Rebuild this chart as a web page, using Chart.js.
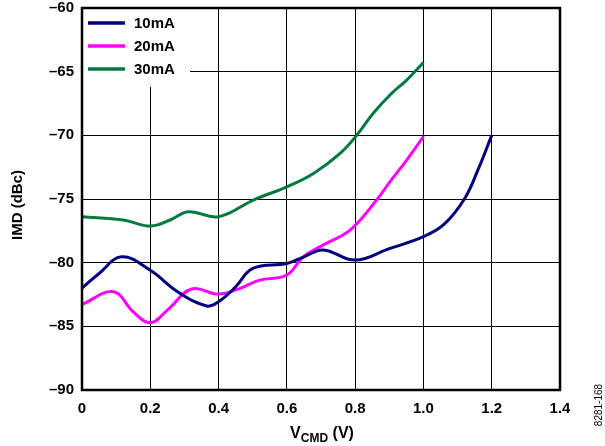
<!DOCTYPE html>
<html>
<head>
<meta charset="utf-8">
<script src="https://cdn.jsdelivr.net/npm/chart.js@4"></script>
<style>
  html, body { margin: 0; padding: 0; background: #fff; }
  #wrap { width: 605px; height: 446px; position: relative; }
</style>
</head>
<body>
<div id="wrap"><canvas id="chart"></canvas></div>
<script>
// values
const seriesNames = ["10mA", "20mA", "30mA"];
const seriesColors = ["#000080", "#ff00ff", "#007a3d"];

const x10 = [0, 0.05, 0.116, 0.2, 0.28, 0.365, 0.4, 0.45, 0.5, 0.6, 0.65, 0.707, 0.8, 0.9, 1.0, 1.06, 1.12, 1.16, 1.2];
const y10 = [-82.0, -80.85, -79.54, -80.6, -82.28, -83.4, -83.07, -81.9, -80.45, -80.06, -79.54, -79.0, -79.8, -78.9, -77.96, -77.0, -75.0, -72.7, -70.0];

const x20 = [0, 0.092, 0.15, 0.2, 0.25, 0.321, 0.4, 0.463, 0.52, 0.6, 0.648, 0.707, 0.785, 0.863, 0.902, 0.951, 1.0];
const y20 = [-83.28, -82.28, -83.86, -84.72, -83.73, -82.07, -82.47, -82.02, -81.37, -80.97, -79.54, -78.6, -77.44, -75.08, -73.64, -71.94, -70.1];

const x30 = [0, 0.121, 0.2, 0.258, 0.311, 0.4, 0.502, 0.6, 0.678, 0.756, 0.805, 0.853, 0.902, 0.951, 1.0];
const y30 = [-76.39, -76.65, -77.13, -76.65, -76.0, -76.39, -75.08, -74.04, -72.99, -71.42, -69.98, -68.27, -66.83, -65.66, -64.29];

const xTicks = [0, 0.2, 0.4, 0.6, 0.8, 1.0, 1.2, 1.4];
const yTicks = [-90, -85, -80, -75, -70, -65, -60];

const FONT = "'Liberation Sans', Arial, sans-serif";

function pts(xs, ys) {
    return xs.map((x, i) => ({ x: x, y: ys[i] }));
}

const allX = [x10, x20, x30];
const allY = [y10, y20, y30];

// frame, legend box, titles
const decor = {
    id: 'decor',
    beforeDatasetsDraw(chart) {
        const c = chart.ctx;
        const a = chart.chartArea;
        // legend covers the grid in the top-left corner
        c.save();
        c.fillStyle = '#fff';
        c.fillRect(a.left + 1, a.top + 1, 107, 78);
        c.font = 'bold 15px ' + FONT;
        c.textBaseline = 'middle';
        c.lineWidth = 3.5;
        seriesNames.forEach((name, i) => {
            const y = a.top + 15 + i * 23;
            c.strokeStyle = seriesColors[i];
            c.beginPath();
            c.moveTo(a.left + 6, y);
            c.lineTo(a.left + 43, y);
            c.stroke();
            c.fillStyle = '#000';
            c.fillText(name, a.left + 52, y + 1);
        });
        c.restore();
    },
    afterDraw(chart) {
        const c = chart.ctx;
        const a = chart.chartArea;
        c.save();
        c.strokeStyle = '#000';
        c.lineWidth = 2.5;
        c.strokeRect(a.left, a.top, a.right - a.left, a.bottom - a.top);

        // y title
        c.fillStyle = '#000';
        c.font = 'bold 15px ' + FONT;
        c.textAlign = 'center';
        c.textBaseline = 'middle';
        c.translate(18, 205);
        c.rotate(-Math.PI / 2);
        c.fillText('IMD (dBc)', 0, 0);
        c.restore();

        // x title with subscript
        c.save();
        c.fillStyle = '#000';
        c.textBaseline = 'alphabetic';
        const v = 'V';
        const sub = 'CMD';
        const rest = ' (V)';
        c.font = 'bold 16px ' + FONT;
        const wV = c.measureText(v).width;
        const wR = c.measureText(rest).width;
        c.font = 'bold 12px ' + FONT;
        const wS = c.measureText(sub).width;
        let x = 322 - (wV + wS + wR) / 2;
        const base = 438;
        c.font = 'bold 16px ' + FONT;
        c.fillText(v, x, base);
        x += wV;
        c.font = 'bold 12px ' + FONT;
        c.fillText(sub, x, base + 4);
        x += wS;
        c.font = 'bold 16px ' + FONT;
        c.fillText(rest, x, base);

        // figure code
        c.font = '10px ' + FONT;
        c.textAlign = 'center';
        c.textBaseline = 'middle';
        c.translate(599, 405);
        c.rotate(-Math.PI / 2);
        c.fillText('8281-168', 0, 0);
        c.restore();
    }
};

new Chart(document.getElementById('chart'), {
    type: 'line',
    data: {
        datasets: seriesNames.map((name, i) => ({
            label: name,
            data: pts(allX[i], allY[i]),
            borderColor: seriesColors[i],
            borderWidth: 3,
            pointRadius: 0,
            tension: 0.4,
            fill: false
        }))
    },
    options: {
        responsive: true,
        maintainAspectRatio: false,
        animation: false,
        layout: { padding: { top: 8, right: 45, left: 0, bottom: 0 } },
        plugins: {
            legend: { display: false },
            tooltip: { enabled: false }
        },
        scales: {
            x: {
                type: 'linear',
                min: 0,
                max: 1.4,
                afterBuildTicks: axis => { axis.ticks = xTicks.map(v => ({ value: v })); },
                afterFit: axis => {
                    axis.height = 56;
                    axis.paddingLeft = 0;
                    axis.paddingRight = 0;
                },
                grid: { color: '#000', lineWidth: 1, drawTicks: false },
                border: { display: false },
                ticks: {
                    color: '#000',
                    padding: 10,
                    font: { family: FONT, size: 15, weight: 'bold' },
                    callback: v => v === 0 ? '0' : v.toFixed(1)
                }
            },
            y: {
                min: -90,
                max: -60,
                afterBuildTicks: axis => { axis.ticks = yTicks.map(v => ({ value: v })); },
                afterFit: axis => {
                    axis.width = 82;
                    axis.paddingTop = 0;
                    axis.paddingBottom = 0;
                },
                grid: { color: '#000', lineWidth: 1, drawTicks: false },
                border: { display: false },
                ticks: {
                    color: '#000',
                    padding: 8,
                    font: { family: FONT, size: 15, weight: 'bold' },
                    callback: v => String(v).replace('-', '\u2013')
                }
            }
        }
    },
    plugins: [decor]
});
</script>
</body>
</html>
